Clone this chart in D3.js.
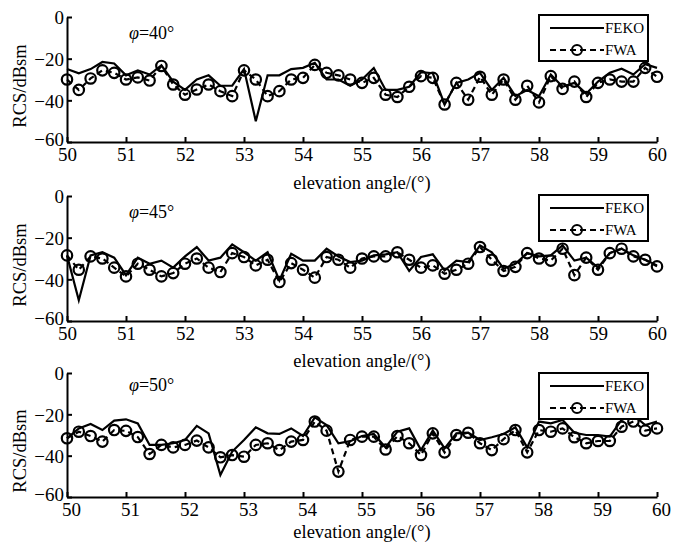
<!DOCTYPE html>
<html>
<head>
<meta charset="utf-8">
<script src="https://cdn.jsdelivr.net/npm/d3@7"></script>
<style>
  body { margin: 0; background: #fff; }
  svg { display: block; }
  text { font-family: "Liberation Serif", "Times New Roman", serif; fill: #000; }
</style>
</head>
<body>
<div id="chart"></div>
<script>
// elevation angles (deg), one sample every 0.2
var angles = [50.0, 50.2, 50.4, 50.6, 50.8, 51.0, 51.2, 51.4, 51.6, 51.8,
              52.0, 52.2, 52.4, 52.6, 52.8, 53.0, 53.2, 53.4, 53.6, 53.8,
              54.0, 54.2, 54.4, 54.6, 54.8, 55.0, 55.2, 55.4, 55.6, 55.8,
              56.0, 56.2, 56.4, 56.6, 56.8, 57.0, 57.2, 57.4, 57.6, 57.8,
              58.0, 58.2, 58.4, 58.6, 58.8, 59.0, 59.2, 59.4, 59.6, 59.8, 60.0];

// RCS values (dBsm)
var feko40 = [-25, -27, -25, -21.6, -22.3, -28, -25.6, -27.6, -23.2, -31,
              -35, -30, -28, -33, -33, -25, -50, -28, -28, -25,
              -24.4, -22, -30, -30, -33, -30, -24.5, -35, -35, -33.5,
              -26.5, -27, -42, -31.6, -30, -26.8, -35, -29.2, -38, -35,
              -38, -27.6, -33.5, -31.6, -36.8, -31, -26.8, -24.8, -27.6, -22.7, -24.4];
var fwa40  = [-30, -35, -29.5, -25.6, -26.8, -30, -29, -30.5, -23.5, -32.4,
              -37.3, -34.8, -32.4, -35.6, -38, -25.6, -30, -38, -35.6, -30,
              -29.2, -23, -26.8, -28, -30, -31.6, -29.2, -37.3, -38.4, -33.5,
              -28.4, -29.2, -42, -31.6, -39.7, -28.7, -37.3, -30, -39.7, -33,
              -41, -28.4, -34.5, -31, -38.4, -31.6, -30, -31, -31, -24.4, -28.7];

var feko45 = [-28.5, -50, -28.5, -27, -29.6, -38, -29.6, -32.5, -31, -34.4,
              -29, -24.5, -31, -29.6, -23.2, -27, -31, -27, -40.5, -27.7,
              -31, -31, -25.3, -29, -31.7, -31, -28.5, -28, -27, -36,
              -29.3, -28, -35.7, -31, -31.7, -23.7, -27, -34.9, -32.5, -27.4,
              -29, -28.5, -23.7, -31, -29.6, -34.4, -27.4, -25.3, -28.5, -30.6, -33.3];
var fwa45  = [-28.5, -35.4, -29, -30, -34.4, -38.6, -32.5, -35.4, -38.6, -37,
              -32.5, -30, -34.4, -36.5, -27.4, -29.3, -33.3, -30.6, -41.3, -32.2,
              -35.4, -39.2, -29.3, -30.6, -34.4, -30, -29, -29, -27, -30.6,
              -34.4, -33.3, -37.3, -35.4, -32.5, -24.5, -30.6, -36, -34, -27.4,
              -30, -31, -25.3, -38, -29.6, -35.4, -27.4, -25.3, -29, -30.6, -33.8];

var feko50 = [-31.6, -26.8, -24.7, -27.6, -23, -22.4, -24.4, -34.8, -34.8, -34,
              -32.4, -25.6, -29.2, -49.4, -38, -32.4, -26.3, -29.2, -29.5, -26.8,
              -30.5, -21.5, -25.2, -34, -33, -30.5, -29.5, -36, -28.4, -26.8,
              -37.3, -27.9, -36.5, -29.2, -28.9, -32.4, -31.1, -29.5, -26.3, -36,
              -23.5, -24.4, -22.7, -28.9, -30, -30, -30.8, -22.7, -20.3, -25.2, -23.5];
var fwa50  = [-31.6, -28.4, -30.5, -33.2, -27.6, -28, -31, -39.2, -34.8, -36,
              -34.8, -32.7, -36, -40.8, -39.7, -40.5, -34.8, -34, -37.3, -33.2,
              -32.4, -23.5, -27.9, -47.7, -32.4, -30.8, -30.8, -37, -30.5, -34,
              -39.7, -29.2, -38.4, -30, -28.9, -34, -37.3, -32, -27.6, -38.4,
              -27.6, -28.4, -26.8, -31.1, -34, -32.9, -32.9, -26, -23.5, -27.9, -26.8];

var phiLabels = ["40°", "45°", "50°"];
var yTicks = [0, -20, -40, -60];
var xTicks = [50, 51, 52, 53, 54, 55, 56, 57, 58, 59, 60];
var seriesNames = ["FEKO", "FWA"];

// ---------------------------------------------------------------------//
//                              Layout                                  //
// ---------------------------------------------------------------------//

var width = 676, height = 543;
var left = 67, right = 657;

// top (0 dBsm), bottom (-60 dBsm), x title y, y title centre, legend top
var panels = [
  { top: 17,  bottom: 142, xTitle: 183, yTitle: 86,  legTop: 15,  phiY: 33,  xShift: 0, feko: feko40, fwa: fwa40 },
  { top: 196, bottom: 321, xTitle: 361, yTitle: 265, legTop: 195, phiY: 212, xShift: 0, feko: feko45, fwa: fwa45 },
  { top: 373, bottom: 497, xTitle: 532, yTitle: 451, legTop: 373, phiY: 385, xShift: 4, feko: feko50, fwa: fwa50 }
];

var svg = d3.select("#chart").append("svg")
  .attr("width", width)
  .attr("height", height);

svg.append("rect")
  .attr("width", width)
  .attr("height", height)
  .attr("fill", "#fff");

var x = d3.scaleLinear().domain([50, 60]).range([left, right]);

panels.forEach(function(p, i) {

  var y = d3.scaleLinear().domain([-60, 0]).range([p.bottom, p.top]);
  var g = svg.append("g");

  // axes, ticks point inward
  var yAxis = g.append("g")
    .attr("transform", "translate(" + left + ",0)")
    .call(d3.axisLeft(y).tickValues(yTicks).tickSize(-5).tickSizeOuter(0).tickPadding(3));

  var xAxis = g.append("g")
    .attr("transform", "translate(0," + p.bottom + ")")
    .call(d3.axisBottom(x).tickValues(xTicks).tickSize(-5).tickSizeOuter(0).tickPadding(6)
      .tickFormat(d3.format("d")));

  [yAxis, xAxis].forEach(function(a) {
    a.selectAll("path, line").attr("stroke", "#000").attr("stroke-width", 2);
    a.selectAll("text")
      .style("font-family", "Liberation Serif, serif")
      .style("font-size", "19px")
      .attr("fill", "#000");
  });
  // the lowest label sits a little above its tick, as in the figure
  yAxis.selectAll("text").attr("dy", function(d) { return d == -60 ? "0.2em" : "0.36em"; });
  xAxis.selectAll("text").attr("dx", p.xShift);

  // axis titles
  g.append("text")
    .attr("x", 362)
    .attr("y", p.xTitle)
    .attr("text-anchor", "middle")
    .attr("dominant-baseline", "central")
    .style("font-size", "18.5px")
    .text("elevation angle/(°)");

  g.append("text")
    .attr("transform", "translate(20," + p.yTitle + ") rotate(-90)")
    .attr("text-anchor", "middle")
    .attr("dominant-baseline", "central")
    .style("font-size", "18.5px")
    .text("RCS/dBsm");

  // phi label
  var phi = g.append("text")
    .attr("x", 129)
    .attr("y", p.phiY)
    .attr("dominant-baseline", "central")
    .style("font-size", "18px");
  phi.append("tspan").style("font-style", "italic").text("φ");
  phi.append("tspan").text("=" + phiLabels[i]);

  // data
  var line = d3.line()
    .x(function(d, k) { return x(angles[k]); })
    .y(function(d) { return y(d); });

  g.append("path")
    .datum(p.feko)
    .attr("d", line)
    .attr("fill", "none")
    .attr("stroke", "#000")
    .attr("stroke-width", 2.2)
    .attr("stroke-linejoin", "miter");

  g.append("path")
    .datum(p.fwa)
    .attr("d", line)
    .attr("fill", "none")
    .attr("stroke", "#000")
    .attr("stroke-width", 2.2)
    .attr("stroke-dasharray", "6,4");

  g.append("g").selectAll("circle")
    .data(p.fwa)
    .enter().append("circle")
    .attr("cx", function(d, k) { return x(angles[k]); })
    .attr("cy", function(d) { return y(d); })
    .attr("r", 5.2)
    .attr("fill", "none")
    .attr("stroke", "#000")
    .attr("stroke-width", 2.2);

  // legend
  var leg = g.append("g").attr("transform", "translate(539," + p.legTop + ")");
  leg.append("rect")
    .attr("width", 109)
    .attr("height", 46)
    .attr("fill", "#fff")
    .attr("stroke", "#000")
    .attr("stroke-width", 2);

  seriesNames.forEach(function(name, j) {
    var ly = 13 + j * 22;
    leg.append("line")
      .attr("x1", 11).attr("x2", 65)
      .attr("y1", ly).attr("y2", ly)
      .attr("stroke", "#000")
      .attr("stroke-width", 2)
      .attr("stroke-dasharray", j == 1 ? "6,4" : null);
    if (j == 1) {
      leg.append("circle")
        .attr("cx", 38).attr("cy", ly).attr("r", 5)
        .attr("fill", "none").attr("stroke", "#000").attr("stroke-width", 2);
    }
    leg.append("text")
      .attr("x", 66)
      .attr("y", ly)
      .attr("dominant-baseline", "central")
      .style("font-size", "15px")
      .text(name);
  });
});
</script>
</body>
</html>
